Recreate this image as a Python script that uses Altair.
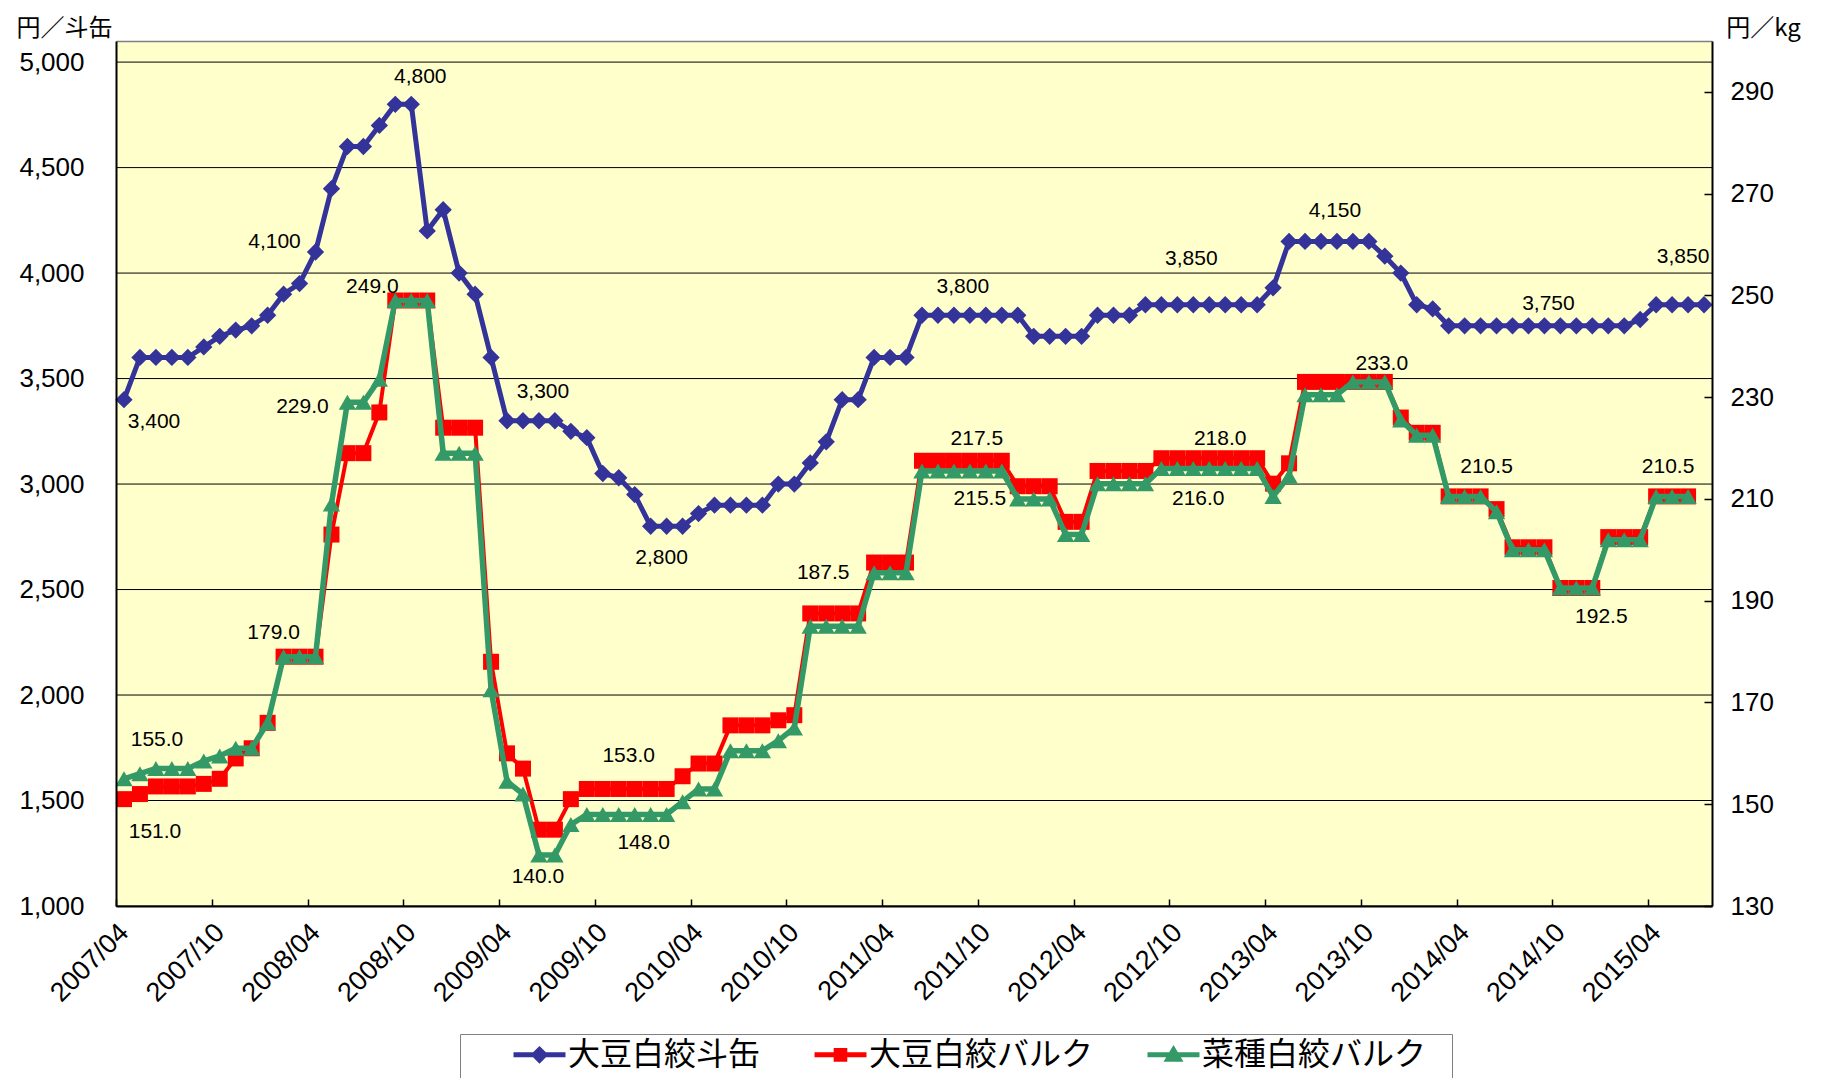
import altair as alt
import pandas as pd

# ---------------- data ----------------
series_names = ["大豆白絞斗缶", "大豆白絞バルク", "菜種白絞バルク"]
series_colors = ["#333399", "#FF0000", "#339966"]

tick_labels = ["2007/04", "2007/10", "2008/04", "2008/10", "2009/04", "2009/10",
               "2010/04", "2010/10", "2011/04", "2011/10", "2012/04", "2012/10",
               "2013/04", "2013/10", "2014/04", "2014/10", "2015/04"]
tick_months = [0, 6, 12, 18, 24, 30, 36, 42, 48, 54, 60, 66, 72, 78, 84, 90, 96]

left_ticks = [1000, 1500, 2000, 2500, 3000, 3500, 4000, 4500, 5000]
right_ticks = [130, 150, 170, 190, 210, 230, 250, 270, 290]
x_domain = [0, 100]
left_domain = [1000, 5100]
right_domain = [130, 300]

# monthly, 2007/04 .. 2015/07  (円/斗缶)
soy_can = [3400, 3600, 3600, 3600, 3600, 3650, 3700, 3730, 3750, 3800,
           3900, 3950, 4100, 4400, 4600, 4600, 4700, 4800, 4800, 4200,
           4300, 4000, 3900, 3600, 3300, 3300, 3300, 3300, 3250, 3220,
           3050, 3030, 2950, 2800, 2800, 2800, 2860, 2900, 2900, 2900,
           2900, 3000, 3000, 3100, 3200, 3400, 3400, 3600, 3600, 3600,
           3800, 3800, 3800, 3800, 3800, 3800, 3800, 3700, 3700, 3700,
           3700, 3800, 3800, 3800, 3850, 3850, 3850, 3850, 3850, 3850,
           3850, 3850, 3930, 4150, 4150, 4150, 4150, 4150, 4150, 4080,
           4000, 3850, 3830, 3750, 3750, 3750, 3750, 3750, 3750, 3750,
           3750, 3750, 3750, 3750, 3750, 3780, 3850, 3850, 3850, 3850]

# monthly, 2007/04 .. 2015/06  (円/kg)
soy_bulk = [151, 152, 153.5, 153.5, 153.5, 154, 155, 159, 161, 166,
            179, 179, 179, 203, 219, 219, 227, 249, 249, 249,
            224, 224, 224, 178, 160, 157, 145, 145, 151, 153,
            153, 153, 153, 153, 153, 155.5, 158, 158, 165.5, 165.5,
            165.5, 166.5, 167.5, 187.5, 187.5, 187.5, 187.5, 197.5, 197.5, 197.5,
            217.5, 217.5, 217.5, 217.5, 217.5, 217.5, 212.5, 212.5, 212.5, 205.5,
            205.5, 215.5, 215.5, 215.5, 215.5, 218, 218, 218, 218, 218,
            218, 218, 213, 217, 233, 233, 233, 233, 233, 233,
            226, 223, 223, 210.5, 210.5, 210.5, 208, 200.5, 200.5, 200.5,
            192.5, 192.5, 192.5, 202.5, 202.5, 202.5, 210.5, 210.5, 210.5]

rape_bulk = [155, 156, 157, 157, 157, 158.5, 159.5, 161, 161, 166,
             179, 179, 179, 209, 229, 229, 233.5, 249, 249, 249,
             219, 219, 219, 172.5, 154.5, 152, 140, 140, 146, 148,
             148, 148, 148, 148, 148, 150.5, 153, 153, 160.5, 160.5,
             160.5, 162.5, 165, 185, 185, 185, 185, 195.5, 195.5, 195.5,
             215.5, 215.5, 215.5, 215.5, 215.5, 215.5, 210, 210, 210, 203,
             203, 213, 213, 213, 213, 216, 216, 216, 216, 216,
             216, 216, 210.5, 214.5, 230.5, 230.5, 230.5, 233, 233, 233,
             225.5, 222.5, 222.5, 210.5, 210.5, 210.5, 207.5, 200, 200, 200,
             192.5, 192.5, 192.5, 202, 202, 202, 210.5, 210.5, 210.5]

# months (index from 2007/04) that carry a data label
can_label_months = [0, 12, 18, 26, 34, 53, 67, 76, 89, 98]
soy_label_months = [0, 10, 17, 32, 44, 53, 69, 79, 85, 92, 97]
rape_label_months = [0, 14, 26, 33, 53, 68]

# ---------------- styling (label offsets in px) ----------------
can_label_off = [(30, 22), (-41, -10), (9, -27), (4, -29), (-5, 32), (-7, -28),
                 (-2, -46), (-2, -30), (4, -22), (-5, -48)]
soy_label_off = [(31, 33), (-10, -24), (-23, -14), (-6, -33), (-3, -40), (7, -22),
                 (-5, -19), (-3, -18), (6, -29), (9, 29), (-4, -29)]
rape_label_off = [(33, -39), (-45, 5), (-1, 22), (-7, 29), (10, 28), (-11, 31)]

W, H = 1596, 865
NUM_FONT = "Liberation Sans"
JP_FONT = "Noto Sans CJK JP"
PLOT_BG = "#FFFFCC"

x_scale = alt.Scale(domain=x_domain, nice=False, zero=False)
yl_scale = alt.Scale(domain=left_domain, nice=False, zero=False)
yr_scale = alt.Scale(domain=right_domain, nice=False, zero=False)

tick_js = "[" + ",".join("'" + t + "'" for t in tick_labels) + "]"

x_axis_main = alt.Axis(
    orient="bottom", values=tick_months, labelExpr=tick_js + "[round(datum.value / 6)]",
    labelAngle=-45, labelAlign="right", labelBaseline="middle", labelOffset=8,
    labelPadding=22, labelFont=NUM_FONT, labelFontSize=27, labelColor="black",
    ticks=False, grid=False, domainColor="black", domainWidth=2, title=None,
    labelOverlap=False, labelBound=False, labelFlush=False, zindex=2)
x_axis_ticks = alt.Axis(
    orient="top", offset=-H, values=tick_months, labels=False, ticks=True,
    tickSize=7, tickColor="black", tickWidth=1.5, domain=False, grid=False, title=None,
    zindex=2)
x_axis_top = alt.Axis(
    orient="top", labels=False, ticks=False, grid=False, domain=True,
    domainColor="#808080", domainWidth=1.5, title=None, zindex=2)

y_axis_left = alt.Axis(
    orient="left", values=left_ticks, format=",.0f", labelFont=NUM_FONT, labelFontSize=26,
    labelColor="black", labelPadding=32, ticks=False, grid=False,
    domainColor="black", domainWidth=2, title="円／斗缶", titleAngle=0,
    titleX=-52, titleY=-13, titleAlign="center", titleBaseline="middle", titleFont=JP_FONT,
    titleFontSize=24, titleFontWeight="normal", titleColor="black", zindex=2)
y_axis_right = alt.Axis(
    orient="right", values=right_ticks, labelFont=NUM_FONT, labelFontSize=26,
    labelColor="black", labelPadding=18, ticks=False, grid=False, domainColor="black",
    domainWidth=2, title="円／kg", titleAngle=0, titleX=51, titleY=-13, titleAlign="center",
    titleBaseline="middle", titleFont=JP_FONT, titleFontSize=24, titleFontWeight="normal",
    titleColor="black", zindex=2)
y_axis_right_ticks = alt.Axis(
    orient="left", offset=-W, values=right_ticks, labels=False, ticks=True, tickSize=8,
    tickColor="black", tickWidth=1.5, domain=False, grid=False, title=None, zindex=2)

df_can = pd.DataFrame({"pos": [i + 0.5 for i in range(len(soy_can))], "v": soy_can})
df_soy = pd.DataFrame({"pos": [i + 0.5 for i in range(len(soy_bulk))], "v": soy_bulk})
df_rape = pd.DataFrame({"pos": [i + 0.5 for i in range(len(rape_bulk))], "v": rape_bulk})


def xe(axis=None):
    return alt.X("pos:Q", scale=x_scale, axis=axis)


def ye(scale, axis=None):
    return alt.Y("v:Q", scale=scale, axis=axis)


def label_layers(values, months, offsets, fmt, scale):
    layers = []
    for m, (dx, dy) in zip(months, offsets):
        v = values[m]
        d = pd.DataFrame({"pos": [m + 0.5], "v": [v], "t": [format(v, fmt)]})
        layers.append(
            alt.Chart(d).mark_text(dx=dx, dy=dy, align="center", baseline="middle",
                                   font=NUM_FONT, fontSize=21, color="black")
            .encode(x=xe(), y=ye(scale), text="t:N"))
    return layers


# plot-area background and gridlines (through the scales)
bg = alt.Chart(pd.DataFrame({"x0": [x_domain[0]], "x1": [x_domain[1]],
                             "y0": [left_domain[0]], "y1": [left_domain[1]]})).mark_rect(
    color=PLOT_BG).encode(
    x=alt.X("x0:Q", scale=x_scale, axis=x_axis_top), x2="x1:Q",
    y=alt.Y("y0:Q", scale=yl_scale, axis=None), y2="y1:Q")
grid = alt.Chart(pd.DataFrame({"g": left_ticks})).mark_rule(color="black", strokeWidth=1).encode(
    y=alt.Y("g:Q", scale=yl_scale, axis=None))

# blue series (left axis)
can_line = alt.Chart(df_can).mark_line(color=series_colors[0], strokeWidth=5).encode(
    x=xe(x_axis_main), y=ye(yl_scale, y_axis_left))
can_pts = alt.Chart(df_can).mark_point(shape="diamond", filled=True, size=300, opacity=1,
                                       color=series_colors[0]).encode(
    x=xe(x_axis_ticks), y=ye(yl_scale))

# red / green series (right axis)
soy_line = alt.Chart(df_soy).mark_line(color=series_colors[1], strokeWidth=4).encode(
    x=xe(), y=ye(yr_scale, y_axis_right))
soy_pts = alt.Chart(df_soy).mark_point(shape="square", filled=True, size=256, opacity=1,
                                       color=series_colors[1]).encode(
    x=xe(), y=ye(yr_scale, y_axis_right_ticks))
rape_line = alt.Chart(df_rape).mark_line(color=series_colors[2], strokeWidth=5.5).encode(
    x=xe(), y=ye(yr_scale))
rape_pts = alt.Chart(df_rape).mark_point(shape="triangle-up", filled=True, size=300, opacity=1,
                                         color=series_colors[2]).encode(x=xe(), y=ye(yr_scale))

# legend (line + marker symbols); trailing moves only widen the legend frame
legend_paths = [
    "M-1.444,0L1.444,0M0,-0.3L0.3,0L0,0.3L-0.3,0ZM0,2.6",
    "M-1.444,0L1.444,0M-0.24,-0.24L0.24,-0.24L0.24,0.24L-0.24,0.24ZM0,2.6",
    "M-1.444,0L1.444,0M0,-0.28L0.31,0.24L-0.31,0.24ZM0,2.6M14.9,0",
]
leg = alt.Legend(orient="none", legendX=344, legendY=993, direction="horizontal", title=None,
                 labelFont=JP_FONT, labelFontSize=32, labelColor="black", labelLimit=500,
                 symbolSize=1296, symbolStrokeWidth=5, symbolOffset=59, labelOffset=8,
                 columnPadding=0, padding=0, strokeColor="#808080", fillColor="white",
                 cornerRadius=0)
legend_layer = alt.Chart(pd.DataFrame({"series": series_names})).mark_point(
    filled=True, opacity=1).encode(
    fill=alt.Fill("series:N", scale=alt.Scale(domain=series_names, range=series_colors), legend=leg),
    stroke=alt.Stroke("series:N", scale=alt.Scale(domain=series_names, range=series_colors), legend=leg),
    shape=alt.Shape("series:N", scale=alt.Scale(domain=series_names, range=legend_paths), legend=leg),
).transform_filter("datum.series == 'none'")

layers = [bg, grid, can_line, can_pts,
          *label_layers(soy_can, can_label_months, can_label_off, ",.0f", yl_scale),
          soy_line, soy_pts, rape_line, rape_pts,
          *label_layers(soy_bulk, soy_label_months, soy_label_off, ".1f", yr_scale),
          *label_layers(rape_bulk, rape_label_months, rape_label_off, ".1f", yr_scale),
          legend_layer]

chart = alt.layer(*layers).resolve_scale(
    y="independent", x="shared"
).resolve_axis(
    x="independent", y="independent"
).properties(
    width=W, height=H,
    autosize=alt.AutoSizeParams(type="none"),
    padding={"left": 108, "top": 33, "right": 100, "bottom": 172},
    background="white",
).configure_view(stroke=None)

chart.save("out.html", embed_options={"renderer": "svg", "actions": False})
